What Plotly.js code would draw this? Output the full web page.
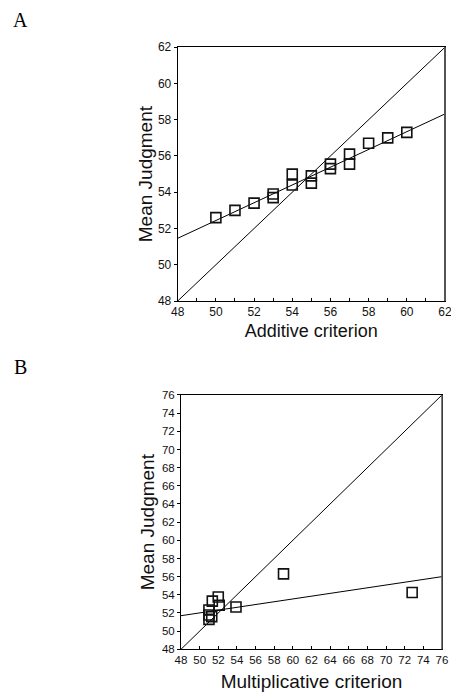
<!DOCTYPE html>
<html>
<head>
<meta charset="utf-8">
<script src="https://cdn.plot.ly/plotly-3.0.1.min.js"></script>
<style>html,body{margin:0;padding:0;background:#fff;}#chart{width:451px;height:692px;}</style>
</head>
<body>
<div id="chart"></div>
<script>
// Panel A: additive criterion vs mean judgment
const additiveX = [50, 51, 52, 53, 53, 54, 54, 55, 55, 56, 56, 57, 57, 58, 59, 60];
const additiveY = [52.6, 53.0, 53.4, 53.9, 53.7, 55.0, 54.4, 54.9, 54.5, 55.55, 55.3, 56.1, 55.55, 56.7, 57.0, 57.3];
const fitAX = [48, 62];
const fitAY = [51.46, 58.32];
const identityA = [48, 62];

// Panel B: multiplicative criterion vs mean judgment
const multX = [51.0, 51.0, 51.0, 51.3, 51.36, 52.0, 52.1, 53.9, 59.0, 72.8];
const multY = [52.33, 51.78, 51.3, 51.6, 53.3, 53.76, 52.85, 52.66, 56.3, 54.25];
const fitBX = [48, 76];
const fitBY = [51.7, 56.0];
const identityB = [48, 76];

const ticksA = [48, 50, 52, 54, 56, 58, 60, 62];
const ticksB = [48, 50, 52, 54, 56, 58, 60, 62, 64, 66, 68, 70, 72, 74, 76];

const font = 'Liberation Sans, Arial, sans-serif';
const marker = {symbol: 'square-open', size: 10, color: '#111', line: {width: 1.6, color: '#111'}};
const lineStyle = {color: '#000', width: 1};

const traces = [
  {x: identityA, y: identityA, mode: 'lines', line: lineStyle, xaxis: 'x', yaxis: 'y', hoverinfo: 'skip'},
  {x: fitAX, y: fitAY, mode: 'lines', line: lineStyle, xaxis: 'x', yaxis: 'y', hoverinfo: 'skip'},
  {x: additiveX, y: additiveY, mode: 'markers', marker: marker, xaxis: 'x', yaxis: 'y'},
  {x: identityB, y: identityB, mode: 'lines', line: lineStyle, xaxis: 'x2', yaxis: 'y2', hoverinfo: 'skip'},
  {x: fitBX, y: fitBY, mode: 'lines', line: lineStyle, xaxis: 'x2', yaxis: 'y2', hoverinfo: 'skip'},
  {x: multX, y: multY, mode: 'markers', marker: marker, xaxis: 'x2', yaxis: 'y2'}
];

function axis(range, ticks, domain, anchor, tfont, opts) {
  return Object.assign({
    range: range, domain: domain, anchor: anchor,
    tickmode: 'array', tickvals: ticks, ticktext: ticks.map(String),
    showgrid: false, zeroline: false,
    showline: true, mirror: true, linecolor: '#000', linewidth: 1,
    tickfont: {family: font, size: tfont, color: '#111'},
    ticklabeloverflow: 'allow',
    ticklen: 3, tickcolor: '#000'
  }, opts);
}

const layout = {
  width: 451, height: 692,
  margin: {l: 0, r: 0, t: 0, b: 0},
  paper_bgcolor: '#fff', plot_bgcolor: '#fff',
  showlegend: false,
  xaxis: axis([48, 62], ticksA, [0.3940, 0.9867], 'y', 12, {
    ticks: 'inside',
    minor: {dtick: 1, ticks: 'inside', ticklen: 3, tickcolor: '#000'},
    title: {text: 'Additive criterion', font: {family: font, size: 18, color: '#111'}, standoff: 5}
  }),
  yaxis: axis([48, 62], ticksA, [0.5650, 0.9318], 'x', 12, {
    ticks: 'outside',
    title: {text: 'Mean Judgment', font: {family: font, size: 19, color: '#111'}, standoff: 0}
  }),
  xaxis2: axis([48, 76], ticksB, [0.4013, 0.9800], 'y2', 11.5, {
    ticks: 'inside',
    title: {text: 'Multiplicative criterion', font: {family: font, size: 19, color: '#111'}, standoff: 10}
  }),
  yaxis2: axis([48, 76], ticksB, [0.0617, 0.4292], 'x2', 11.5, {
    ticks: 'outside',
    title: {text: 'Mean Judgment', font: {family: font, size: 19, color: '#111'}, standoff: 2}
  }),
  shapes: [
    {type: 'line', xref: 'x domain', yref: 'y domain', x0: 1, x1: 1, y0: 0, y1: 1, line: {color: '#555', width: 2}},
    {type: 'line', xref: 'x2 domain', yref: 'y2 domain', x0: 1, x1: 1, y0: 0, y1: 1, line: {color: '#555', width: 1.5}}
  ],
  annotations: [
    {text: 'A', xref: 'paper', yref: 'paper', x: 20 / 451, y: 1 - 20 / 692, xanchor: 'center', yanchor: 'middle', showarrow: false, font: {family: 'Liberation Serif, Times New Roman, serif', size: 20, color: '#000'}},
    {text: 'B', xref: 'paper', yref: 'paper', x: 20 / 451, y: 1 - 367 / 692, xanchor: 'center', yanchor: 'middle', showarrow: false, font: {family: 'Liberation Serif, Times New Roman, serif', size: 20, color: '#000'}}
  ]
};

Plotly.newPlot('chart', traces, layout, {displayModeBar: false, staticPlot: true});
</script>
</body>
</html>
